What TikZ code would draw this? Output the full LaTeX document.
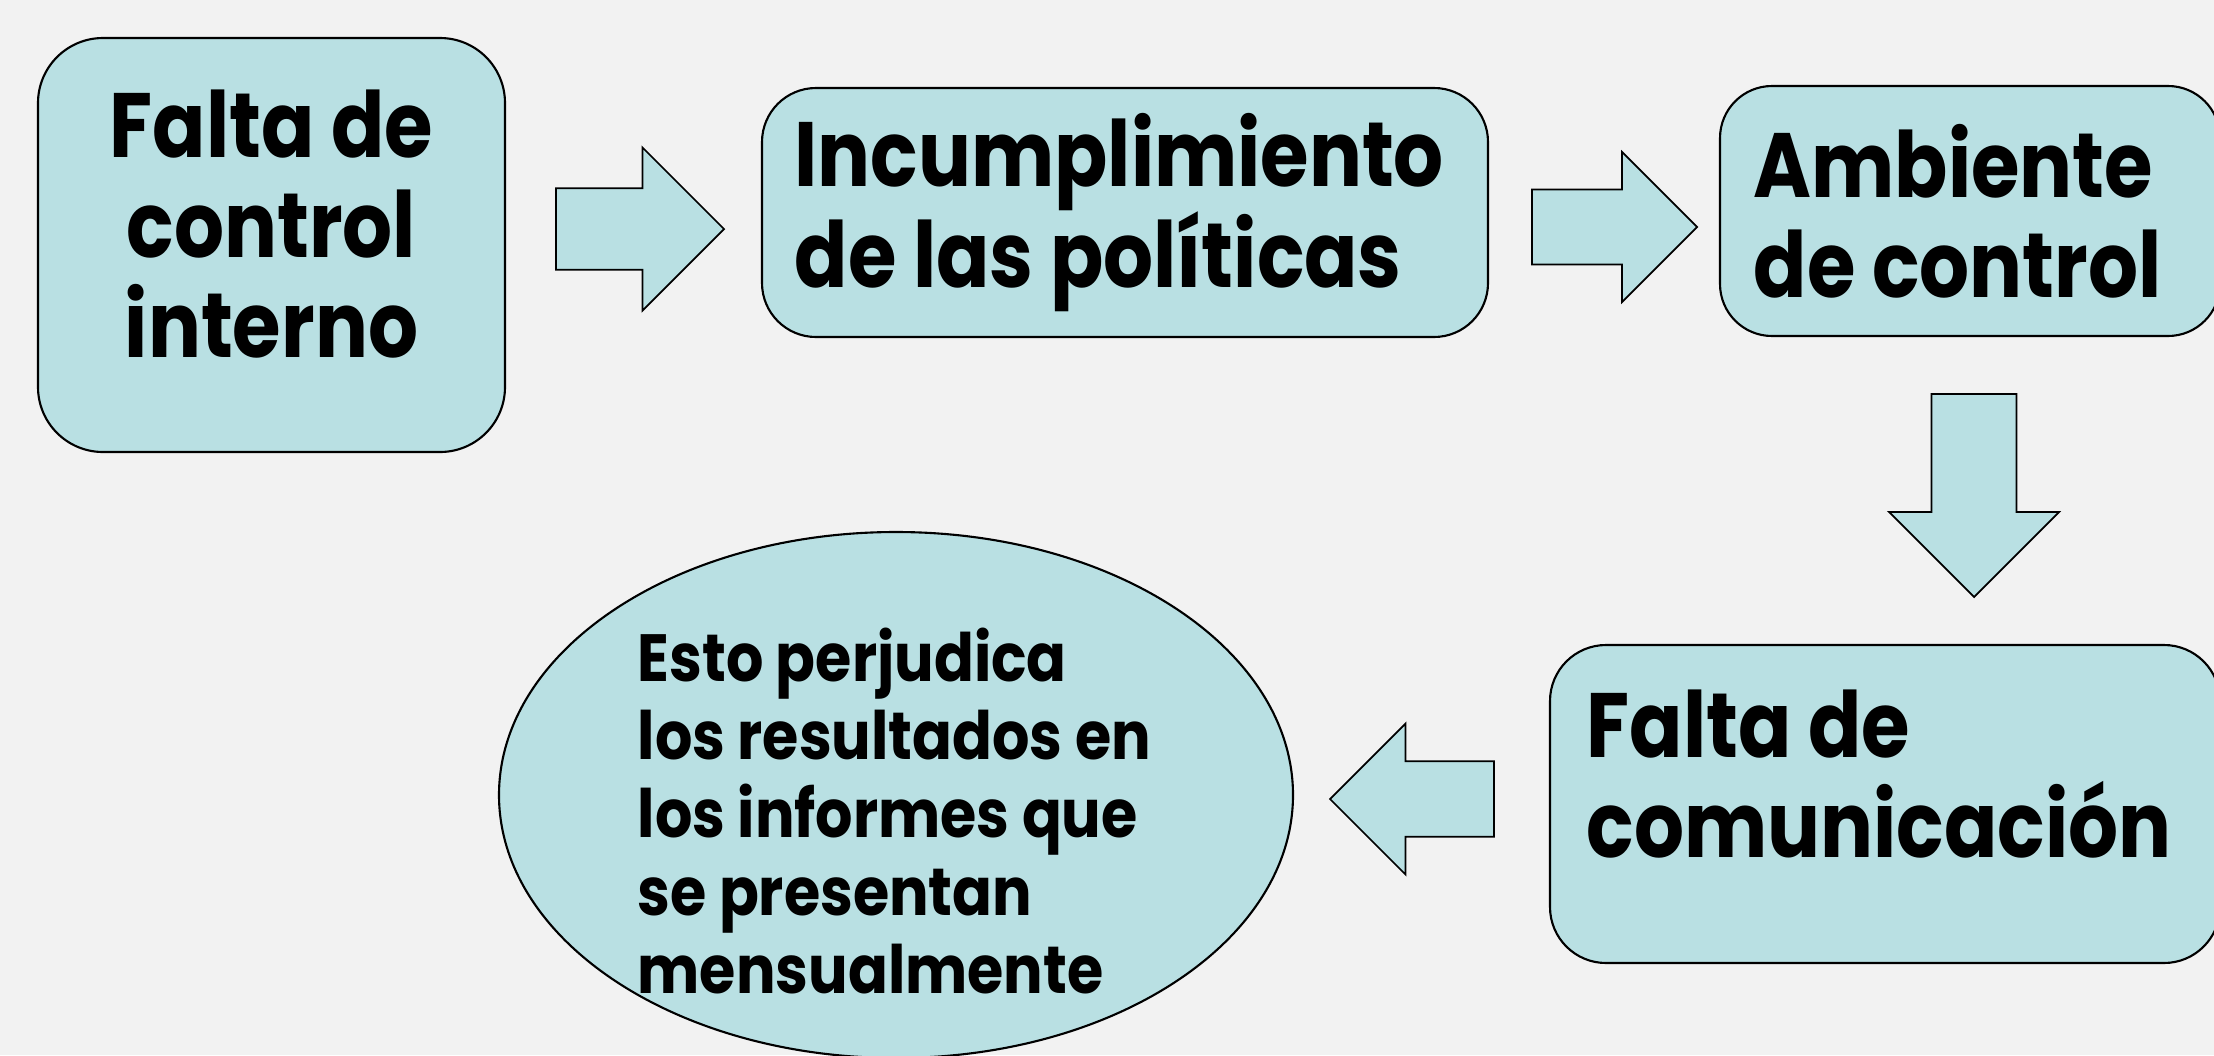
\documentclass[tikz,border=0pt]{standalone}
\usepackage{fontspec}
\setmainfont{Poppins}
\newfontfamily\boxfont{Poppins}[FakeStretch=0.86]
\newfontfamily\ovalfont{Poppins}[FakeStretch=0.88]
\usetikzlibrary{calc, positioning, shapes.geometric}
\definecolor{pagegray}{RGB}{242,242,242}
\definecolor{boxteal}{RGB}{185,224,227}

% block arrow: tail point, direction, length, half width of the head
\newcommand{\blockarrow}[4]{%
  \begin{scope}[shift={(#1)}, rotate=#2]
    \draw[arrowbox] (0,{#4/2}) -- ({#3-#4},{#4/2}) -- ({#3-#4},#4) -- (#3,0)
      -- ({#3-#4},-#4) -- ({#3-#4},{-#4/2}) -- (0,{-#4/2}) -- cycle;
  \end{scope}}

\begin{document}
\begin{tikzpicture}
		% Styles
		\tikzset{stepbox/.style={draw=black, line width=0.6pt, fill=boxteal, rounded corners=#1, inner sep=0pt}}
		\tikzset{arrowbox/.style={draw=black, line width=0.5pt, fill=boxteal}}
		\tikzset{bigtext/.style={font=\boxfont\bfseries\fontsize{26}{28.5}\selectfont, inner sep=0pt, align=left}}
		\tikzset{smalltext/.style={font=\ovalfont\bfseries\fontsize{19}{22.2}\selectfont, inner sep=0pt, align=left}}
		
		% Page
		\fill[pagegray] (0,0) rectangle (22.14,10.55);
		\useasboundingbox (0,0) rectangle (22.14,10.55);
		\clip (0,0) rectangle (22.14,10.55);
		
		% Boxes
		\node[stepbox=0.65cm, minimum width=4.67cm, minimum height=4.14cm] (ctrl) at (2.715,8.10) {};
		\node[stepbox=0.54cm, minimum width=7.26cm, minimum height=2.49cm] (pol) at (11.25,8.425) {};
		\node[stepbox=0.52cm, minimum width=5.00cm, minimum height=2.50cm] (amb) at (19.70,8.44) {};
		\node[stepbox=0.56cm, minimum width=6.70cm, minimum height=3.18cm] (comm) at (18.85,2.51) {};
		\node[ellipse, draw=black, line width=0.6pt, fill=boxteal, minimum width=7.94cm, minimum height=5.26cm, inner sep=0pt] (res) at (8.96,2.60) {};
		
		% Texts
		\node[bigtext, align=center] (ctrltxt) at ($(ctrl.center)+(0,0.21)$) {Falta de\\control\\interno};
		\node[bigtext, anchor=west] (poltxt) at ($(pol.west)+(0.33,0)$) {Incumplimiento\\de las políticas};
		\node[bigtext, anchor=west] (ambtxt) at ($(amb.west)+(0.34,0)$) {Ambiente\\de control};
		\node[bigtext, anchor=north west] (commtxt) at ($(comm.north west)+(0.37,-0.45)$) {Falta de\\comunicación};
		\node[smalltext, anchor=north west] (restxt) at (6.37,4.28) {Esto perjudica\\los resultados en\\los informes que\\se presentan\\mensualmente};
		
		% Arrows
		\coordinate (a1) at (5.56,8.26);
		\coordinate (a2) at (15.32,8.28);
		\coordinate (a3) at (19.74,6.61);
		\coordinate (a4) at (14.94,2.56);
		\blockarrow{a1}{0}{1.68}{0.815}
		\blockarrow{a2}{0}{1.65}{0.75}
		\blockarrow{a3}{-90}{2.03}{0.85}
		\blockarrow{a4}{180}{1.64}{0.755}
	\end{tikzpicture}
\end{document}
